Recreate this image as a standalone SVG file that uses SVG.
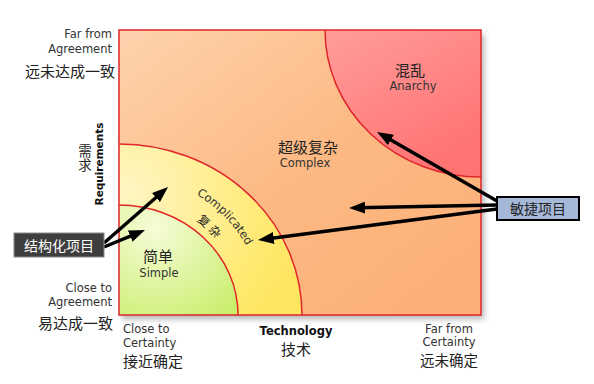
<svg xmlns="http://www.w3.org/2000/svg" width="594" height="384" viewBox="0 0 594 384">
<defs>
<style>
.lat{font-family:"DejaVu Sans","Liberation Sans",sans-serif;font-size:11.5px;fill:#333}
.cjk{font-family:"Noto Sans CJK SC","Noto Sans",sans-serif;font-size:15px;fill:#222}
.bd{stroke:#E0262B;stroke-width:1.5;fill:none}
.arr{stroke:#000;stroke-width:3.5;fill:none;marker-end:url(#ah)}
</style>
<linearGradient id="gOr" x1="0" y1="0" x2="1" y2="1">
<stop offset="0" stop-color="#FDD3AE"/><stop offset="0.5" stop-color="#FDB983"/><stop offset="1" stop-color="#FCAE76"/>
</linearGradient>
<linearGradient id="gRd" x1="0" y1="0" x2="0.6" y2="1">
<stop offset="0" stop-color="#FF9D9A"/><stop offset="1" stop-color="#FF7373"/>
</linearGradient>
<radialGradient id="gYe" cx="125" cy="190" r="190" gradientUnits="userSpaceOnUse">
<stop offset="0" stop-color="#FFF6C4"/><stop offset="0.85" stop-color="#FFE86A"/><stop offset="1" stop-color="#FFE460"/>
</radialGradient>
<radialGradient id="gGr" cx="155" cy="228" r="115" gradientUnits="userSpaceOnUse">
<stop offset="0" stop-color="#F6FCD8"/><stop offset="1" stop-color="#C8EE68"/>
</radialGradient>
<filter id="sh" x="-10%" y="-10%" width="125%" height="125%">
<feDropShadow dx="3" dy="4" stdDeviation="3" flood-color="#000" flood-opacity="0.3"/>
</filter>
<marker id="ah" viewBox="0 0 16 12" refX="8" refY="6" markerWidth="16" markerHeight="12" markerUnits="userSpaceOnUse" orient="auto">
<path d="M0,0 L16,6 L0,12 z" fill="#000"/>
</marker>
<path id="pCx" d="M119,173 A146,142 0 0 1 265,315"/>
<path id="pFz" d="M119,194 A124,121 0 0 1 243,315"/>
</defs>

<g id="matrix">
<rect x="119" y="30" width="362" height="285" fill="url(#gOr)" filter="url(#sh)"/>
<path id="anarchy-area" d="M325,30 A156,147 0 0 0 481,177 L481,30 z" fill="url(#gRd)"/>
<path class="bd" d="M325,30 A156,147 0 0 0 481,177"/>
<path id="complicated-area" d="M119,144 A183,171 0 0 1 302,315 L119,315 z" fill="url(#gYe)"/>
<path class="bd" d="M119,144 A183,171 0 0 1 302,315"/>
<path id="simple-area" d="M119,205 A119,110 0 0 1 238,315 L119,315 z" fill="url(#gGr)"/>
<path class="bd" d="M119,205 A119,110 0 0 1 238,315"/>
<rect x="119" y="30" width="362" height="285" class="bd"/>
</g>

<g id="anarchy">
<text class="cjk" x="410" y="76" text-anchor="middle">混乱</text>
<text class="lat" x="413" y="90" text-anchor="middle">Anarchy</text>
</g>
<g id="complex">
<text class="cjk" x="308" y="153" text-anchor="middle">超级复杂</text>
<text class="lat" x="305" y="167" text-anchor="middle">Complex</text>
</g>
<g id="complicated">
<text class="lat" text-anchor="middle"><textPath href="#pCx" startOffset="52%">Complicated</textPath></text>
<text class="cjk" text-anchor="middle" style="font-size:12px;letter-spacing:3px"><textPath href="#pFz" startOffset="51%">复杂</textPath></text>
</g>
<g id="simple">
<text class="cjk" x="158" y="262" text-anchor="middle">简单</text>
<text class="lat" x="159" y="277" text-anchor="middle">Simple</text>
</g>

<g id="y-axis">
<text class="lat" x="112" y="38" text-anchor="end">Far from</text>
<text class="lat" x="112" y="53" text-anchor="end">Agreement</text>
<text class="cjk" x="115" y="77" text-anchor="end">远未达成一致</text>
<text class="cjk" x="85" y="144" writing-mode="vertical-rl" style="font-size:13.5px;letter-spacing:1px">需求</text>
<text class="lat" transform="translate(103,164) rotate(-90)" text-anchor="middle" style="font-weight:bold;font-size:10.5px;fill:#111">Requirements</text>
<text class="lat" x="112" y="292" text-anchor="end">Close to</text>
<text class="lat" x="112" y="306" text-anchor="end">Agreement</text>
<text class="cjk" x="113" y="329" text-anchor="end">易达成一致</text>
</g>

<g id="x-axis">
<text class="lat" x="123" y="333">Close to</text>
<text class="lat" x="123" y="347">Certainty</text>
<text class="cjk" x="123" y="367">接近确定</text>
<text class="lat" x="296" y="335" text-anchor="middle" style="font-weight:bold;fill:#111">Technology</text>
<text class="cjk" x="296" y="355" text-anchor="middle">技术</text>
<text class="lat" x="449" y="333" text-anchor="middle">Far from</text>
<text class="lat" x="449" y="346" text-anchor="middle">Certainty</text>
<text class="cjk" x="449" y="366" text-anchor="middle" style="font-size:14.5px">远未确定</text>
</g>

<g id="connectors">
<line class="arr" x1="104" y1="243" x2="162" y2="192.3"/>
<line class="arr" x1="104" y1="247" x2="137.6" y2="233.1"/>
<line class="arr" x1="497" y1="201" x2="384" y2="136"/>
<line class="arr" x1="497" y1="205" x2="357" y2="207.8"/>
<line class="arr" x1="497" y1="209" x2="265.9" y2="239"/>
</g>

<g id="structured-projects">
<rect x="14" y="233" width="90" height="24" fill="#3E3E3E" stroke="#8A8A8A" stroke-width="1"/>
<text class="cjk" x="59" y="250.5" text-anchor="middle" style="fill:#fff;font-size:14px">结构化项目</text>
</g>
<g id="agile-projects">
<rect x="497" y="197" width="82" height="23" fill="#A5B8D8" stroke="#000" stroke-width="2"/>
<text class="cjk" x="538" y="213.5" text-anchor="middle" style="font-size:14px">敏捷项目</text>
</g>
</svg>
